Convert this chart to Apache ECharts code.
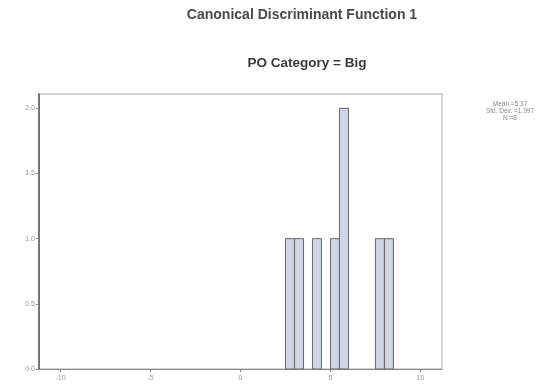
<!DOCTYPE html>
<html>
<head>
<meta charset="utf-8">
<script src="https://cdn.jsdelivr.net/npm/echarts@6/dist/echarts.min.js"></script>
<style>html,body{margin:0;padding:0;background:#fff}#c{width:549px;height:391px}</style>
</head>
<body>
<div id="c"></div>
<script>
var binStarts = [2.5, 3.0, 4.0, 5.0, 5.5, 7.5, 8.0];
var binWidth = 0.5;
var counts = [1, 1, 1, 1, 2, 1, 1];
var xTicks = [-10, -5, 0, 5, 10];
var yTicks = [0, 0.5, 1.0, 1.5, 2.0];
var statsLines = ['Mean =5.37', 'Std. Dev. =1.997', 'N =8'];

var data = binStarts.map(function (s, i) { return [s, s + binWidth, counts[i]]; });
var chart = echarts.init(document.getElementById('c'));
chart.setOption({
  animation: false,
  title: [
    { text: 'Canonical Discriminant Function 1', left: 297, top: 3, textAlign: 'center',
      textStyle: { fontFamily: 'Liberation Sans', fontSize: 14, fontWeight: 'bold', color: '#4a4a4a' } },
    { text: 'PO Category = Big', left: 302, top: 51, textAlign: 'center',
      textStyle: { fontFamily: 'Liberation Sans', fontSize: 13.5, fontWeight: 'bold', color: '#3a3a3a' } }
  ],
  grid: { left: 39, right: 107, top: 94, bottom: 22, show: true, borderColor: '#aaa', borderWidth: 1 },
  xAxis: {
    type: 'value', min: -11.2, max: 11.2,
    axisLine: { show: true, onZero: false, lineStyle: { color: '#888', width: 1 } },
    axisTick: { show: true, customValues: xTicks, length: 3, lineStyle: { color: '#888' } },
    axisLabel: { customValues: xTicks, fontFamily: 'Liberation Sans', fontSize: 7, color: '#999', margin: 6 },
    splitLine: { show: false }
  },
  yAxis: {
    type: 'value', min: 0, max: 2.11,
    axisLine: { show: true, onZero: false, lineStyle: { color: '#555', width: 1.5 } },
    axisTick: { show: true, customValues: yTicks, length: 3, lineStyle: { color: '#888' } },
    axisLabel: { customValues: yTicks, fontFamily: 'Liberation Sans', fontSize: 7, color: '#999', margin: 4,
      formatter: function (v) { return v.toFixed(1); } },
    splitLine: { show: false }
  },
  series: [{
    type: 'custom',
    data: data,
    renderItem: function (params, api) {
      var p0 = api.coord([api.value(0), 0]);
      var p1 = api.coord([api.value(1), api.value(2)]);
      return {
        type: 'rect',
        shape: { x: p0[0], y: p1[1], width: p1[0] - p0[0], height: p0[1] - p1[1] },
        style: { fill: '#cfd5e4', stroke: '#666', lineWidth: 1 }
      };
    },
    encode: { x: [0, 1], y: 2 }
  }],
  graphic: statsLines.map(function (t, i) {
    return { type: 'text', x: 510, y: 101 + i * 7, style: { text: t, textAlign: 'center',
      fontFamily: 'Liberation Sans', fontSize: 6.5, fill: '#888' } };
  })
});
</script>
</body>
</html>
